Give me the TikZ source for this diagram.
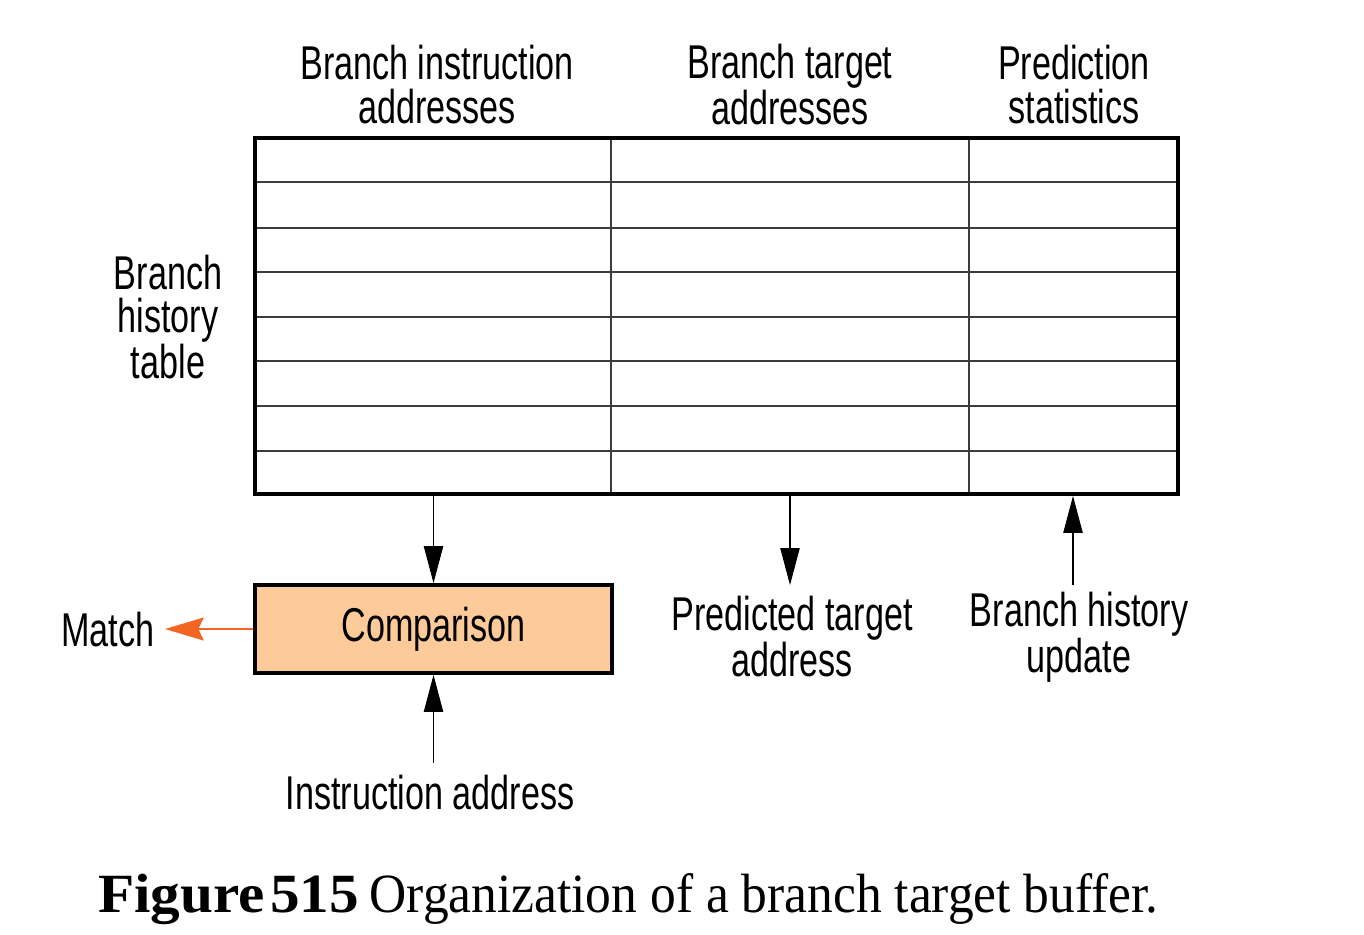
\documentclass[tikz,border=0pt]{standalone}
\usepackage{fontspec}
\newfontfamily\narrowsans[FakeStretch=0.72]{Liberation Sans}
\newfontfamily\capserif[FakeStretch=0.93]{Liberation Serif}
\newfontfamily\capbold[FakeStretch=1.07]{Liberation Serif}
\usepackage{tikz}
\usetikzlibrary{arrows.meta, positioning, fit}
\definecolor{cmpfill}{RGB}{253,203,153}
\definecolor{matchorange}{RGB}{242,101,34}
\definecolor{gridgray}{RGB}{60,60,60}
\tikzset{
  lbl/.style={align=center, inner sep=0pt,
    font=\narrowsans\fontsize{27}{25}\selectfont},
  tblframe/.style={rectangle, draw=black, line width=2.2pt, inner sep=0pt},
  gridline/.style={draw=gridgray, line width=0.6pt},
  cmpbox/.style={rectangle, draw=black, fill=cmpfill, line width=2.2pt,
    minimum width=7.14cm, minimum height=1.76cm, inner sep=0pt,
    font=\narrowsans\fontsize{27}{25}\selectfont},
  arrow/.style={-{Triangle[length=21pt, width=11pt]}, line width=0.6pt},
  matcharrow/.style={-{Stealth[length=22pt, width=13pt, inset=3pt]},
    line width=1.5pt, color=matchorange},
  caption/.style={anchor=base west, inner sep=0pt,
    font=\capserif\fontsize{31.5}{34}\selectfont}
}
\begin{document}
\begin{tikzpicture}[x=0.02cm, y=-0.02cm]
  \useasboundingbox (0,0) rectangle (1364,934);

  % the table
  \coordinate (tl) at (255,138);
  \coordinate (br) at (1178,494);
  \foreach \y in {182,228,272,317,361,406,451}
    \draw[gridline] (255,\y) -- (1178,\y);
  \foreach \x in {611,969}
    \draw[gridline] (\x,138) -- (\x,494);
  \node[tblframe, fit=(tl)(br)] (btb) {};

  % column and row labels
  \node[lbl] (bia) at (437,85) {Branch instruction\\addresses};
  \node[lbl] (bta) at (790,85) {Branch target\\addresses};
  \node[lbl] (pst) at (1074,85) {Prediction\\statistics};
  \node[lbl] (bht) at (168,317) {Branch\\history\\table};

  % comparison and outputs
  \node[cmpbox] (cmp) at (433.5,629) {Comparison};
  \node[lbl] (match) at (108,630) {Match};
  \node[lbl] (ptgt) at (792,637) {Predicted target\\address};
  \node[lbl] (bhu) at (1079,637) {Branch history\\update};
  \node[lbl] (iaddr) at (430,793) {Instruction address};

  \coordinate (ptip) at (790,585);
  \coordinate (utail) at (1073,585);
  \coordinate (itail) at (433.5,763);
  \coordinate (mtip) at (165,629);

  \draw[arrow] (cmp.north |- btb.south) -- (cmp.north);
  \draw[arrow] (ptip |- btb.south) -- (ptip);
  \draw[arrow] (utail) -- (utail |- btb.south);
  \draw[arrow] (itail) -- (cmp.south);
  \draw[matcharrow] (cmp.west) -- (mtip);

  % caption
  \node[caption] (cap) at (98,912) {{\capbold\bfseries Figure\kern3pt 515}\kern6pt Organization of a branch target buffer.};
\end{tikzpicture}
\end{document}
